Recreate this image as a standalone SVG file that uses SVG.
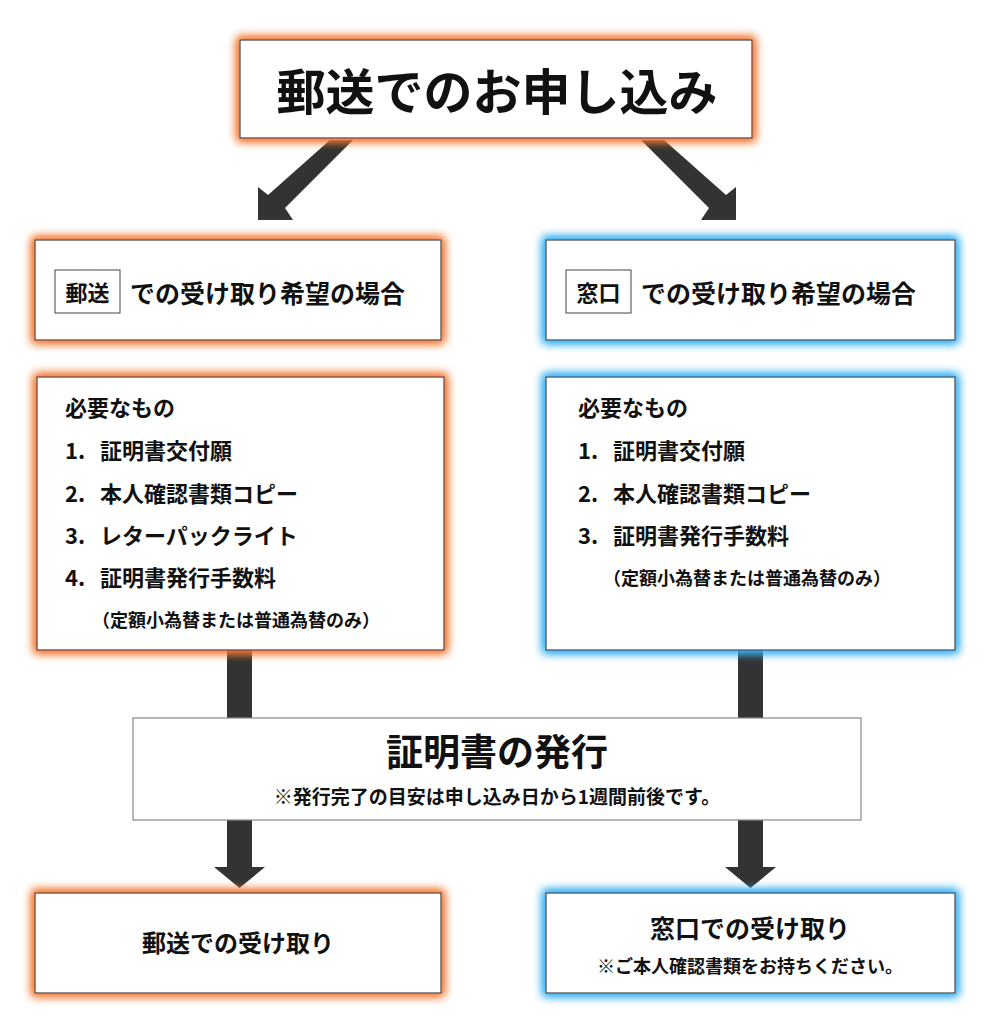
<svg xmlns="http://www.w3.org/2000/svg" width="994" height="1030" viewBox="0 0 994 1030">
<defs>
<filter id="go" x="-10%" y="-25%" width="120%" height="150%"><feMorphology in="SourceAlpha" operator="dilate" radius="2" result="d"/><feGaussianBlur in="d" stdDeviation="5" result="b"/><feFlood flood-color="#f27a36"/><feComposite in2="b" operator="in" result="g"/><feMerge><feMergeNode in="g"/><feMergeNode in="g"/><feMergeNode in="SourceGraphic"/></feMerge></filter>
<filter id="gb" x="-10%" y="-25%" width="120%" height="150%"><feMorphology in="SourceAlpha" operator="dilate" radius="2" result="d"/><feGaussianBlur in="d" stdDeviation="5" result="b"/><feFlood flood-color="#36b0f2"/><feComposite in2="b" operator="in" result="g"/><feMerge><feMergeNode in="g"/><feMergeNode in="g"/><feMergeNode in="SourceGraphic"/></feMerge></filter>
</defs>
<style>
text{font-family:"Noto Sans CJK JP","Noto Sans",sans-serif;font-weight:bold;fill:#111}
.box{fill:#fff;stroke:#444;stroke-width:1.2}
.o{filter:url(#go)}
.b{filter:url(#gb)}
.ar{fill:#333}
.m{font-size:22px}
.n{font-size:18px}
</style>
<rect width="994" height="1030" fill="#fff"/>
<g id="connectors">
<polygon class="ar" points="330,140 353,140 285,208 293,220 258,220 258,187 268,195"/>
<polygon class="ar" points="664,140 641,140 709,208 701,220 736,220 736,187 726,195"/>
<rect class="ar" x="227" y="650" width="25" height="68"/>
<rect class="ar" x="738" y="650" width="25" height="68"/>
<polygon class="ar" points="227,820 252,820 252,867 265,867 239.5,888 214,867 227,867"/>
<polygon class="ar" points="738,820 763,820 763,867 776,867 750.5,888 725,867 738,867"/>
</g>
<g id="top"><rect class="box o" x="240" y="40" width="512" height="98"/><text x="497" y="110" font-size="49" text-anchor="middle">郵送でのお申し込み</text></g>
<g id="mail-case"><rect class="box o" x="35" y="240" width="406" height="100"/><rect x="55" y="270" width="65" height="43" fill="none" stroke="#444"/><text x="87.5" y="301" font-size="22" text-anchor="middle">郵送</text><text x="130" y="303" font-size="25">での受け取り希望の場合</text></g>
<g id="window-case"><rect class="box b" x="546" y="240" width="409" height="100"/><rect x="566" y="270" width="65" height="43" fill="none" stroke="#444"/><text x="598.5" y="301" font-size="22" text-anchor="middle">窓口</text><text x="641" y="303" font-size="25">での受け取り希望の場合</text></g>
<g id="mail-needs"><rect class="box o" x="37" y="377" width="407" height="273"/>
<text class="m" x="65" y="416" font-size="21">必要なもの</text>
<text class="m" x="65" y="459">1.</text><text class="m" x="100" y="459">証明書交付願</text>
<text class="m" x="65" y="502">2.</text><text class="m" x="100" y="502">本人確認書類コピー</text>
<text class="m" x="65" y="544">3.</text><text class="m" x="100" y="544">レターパックライト</text>
<text class="m" x="65" y="586">4.</text><text class="m" x="100" y="586">証明書発行手数料</text>
<text class="n" x="92" y="627">（定額小為替または普通為替のみ）</text></g>
<g id="window-needs"><rect class="box b" x="546" y="377" width="409" height="273"/>
<text class="m" x="578" y="416">必要なもの</text>
<text class="m" x="578" y="459">1.</text><text class="m" x="613" y="459">証明書交付願</text>
<text class="m" x="578" y="502">2.</text><text class="m" x="613" y="502">本人確認書類コピー</text>
<text class="m" x="578" y="544">3.</text><text class="m" x="613" y="544">証明書発行手数料</text>
<text class="n" x="603" y="585">（定額小為替または普通為替のみ）</text></g>
<g id="issue"><rect x="133" y="718" width="728" height="102" fill="#fff" stroke="#888" stroke-width="1.2"/><text x="497" y="766" font-size="37" text-anchor="middle">証明書の発行</text><text x="497" y="804" font-size="19" text-anchor="middle">※発行完了の目安は申し込み日から1週間前後です。</text></g>
<g id="mail-receive"><rect class="box o" x="35" y="893" width="406" height="100"/><text x="238" y="952" font-size="24" text-anchor="middle">郵送での受け取り</text></g>
<g id="window-receive"><rect class="box b" x="546" y="893" width="409" height="100"/><text x="750" y="938" font-size="25" text-anchor="middle">窓口での受け取り</text><text x="750" y="973" font-size="18" text-anchor="middle">※ご本人確認書類をお持ちください。</text></g>
</svg>
